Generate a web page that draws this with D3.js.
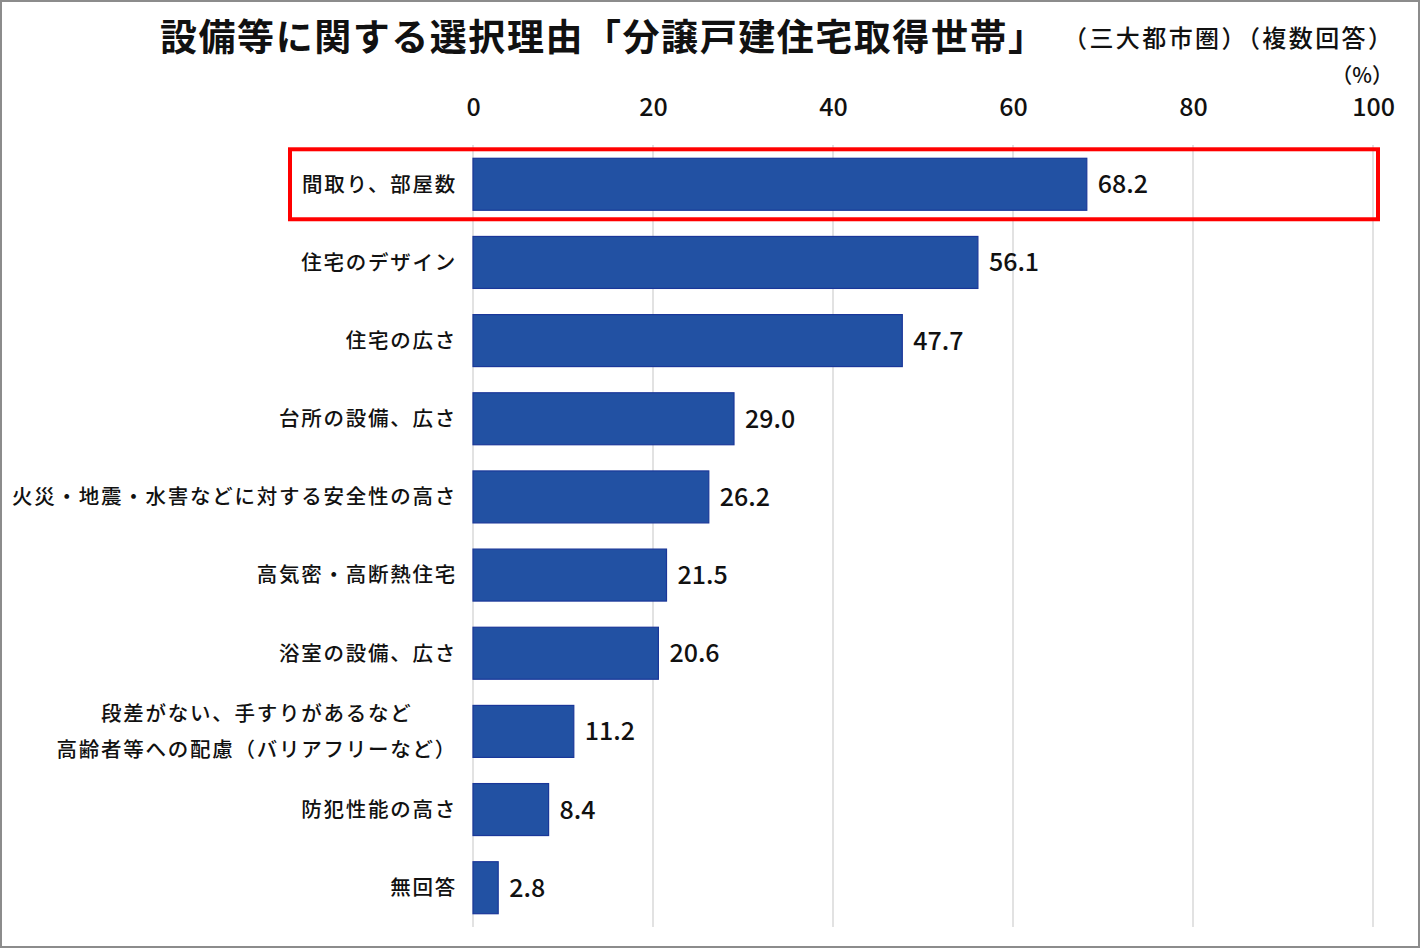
<!DOCTYPE html>
<html>
<head>
<meta charset="utf-8">
<script src="https://cdn.jsdelivr.net/npm/d3@7"></script>
<style>
  body { margin: 0; background: #fff; }
  svg { display: block; font-family: "Noto Sans CJK JP", "Noto Sans", sans-serif; }
</style>
</head>
<body>
<svg id="chart" width="1420" height="948"></svg>
<script>
// 選択理由（カテゴリ）と割合(%)
const categories = [
  "間取り、部屋数",
  "住宅のデザイン",
  "住宅の広さ",
  "台所の設備、広さ",
  "火災・地震・水害などに対する安全性の高さ",
  "高気密・高断熱住宅",
  "浴室の設備、広さ",
  "段差がない、手すりがあるなど\n高齢者等への配慮（バリアフリーなど）",
  "防犯性能の高さ",
  "無回答"
];
const values = [68.2, 56.1, 47.7, 29.0, 26.2, 21.5, 20.6, 11.2, 8.4, 2.8];
const ticks = [0, 20, 40, 60, 80, 100];
const highlighted = ["間取り、部屋数"];

const svg = d3.select("#chart");
const W = 1420, H = 948;

// 外枠
svg.append("rect")
  .attr("x", 1).attr("y", 1)
  .attr("width", W - 2).attr("height", H - 2)
  .attr("fill", "#fff")
  .attr("stroke", "#8c8c8c")
  .attr("stroke-width", 2);

const x = d3.scaleLinear().domain([0, 100]).range([473, 1373]);
const y = d3.scaleBand().domain(categories).range([145, 927]).paddingInner(0.335).paddingOuter(0.17);

// グリッド線
svg.append("g")
  .selectAll("line")
  .data(ticks)
  .join("line")
  .attr("x1", d => x(d)).attr("x2", d => x(d))
  .attr("y1", 145).attr("y2", 927)
  .attr("stroke", "#d9d9d9")
  .attr("stroke-width", 1.5);

// 上の軸
const axis = svg.append("g")
  .attr("transform", "translate(0,116)")
  .call(d3.axisTop(x).tickValues(ticks).tickSize(0).tickPadding(0));
axis.select(".domain").remove();
axis.selectAll("text")
  .attr("font-size", 25)
  .attr("font-weight", 500)
  .attr("fill", "#111")
  .attr("font-family", "\"Noto Sans CJK JP\", sans-serif");

// バー
svg.append("g")
  .selectAll("rect")
  .data(values)
  .join("rect")
  .attr("x", x(0))
  .attr("y", (d, i) => y(categories[i]))
  .attr("width", d => x(d) - x(0))
  .attr("height", y.bandwidth())
  .attr("fill", "#2251a3")
  .attr("stroke", "#1a3799")
  .attr("stroke-width", 1.2);

// 値ラベル
svg.append("g")
  .selectAll("text")
  .data(values)
  .join("text")
  .attr("x", d => x(d) + 11)
  .attr("y", (d, i) => y(categories[i]) + y.bandwidth() / 2)
  .attr("dy", "0.36em")
  .attr("font-size", 25)
  .attr("font-weight", 500)
  .attr("fill", "#111")
  .text(d => d.toFixed(1));

// カテゴリラベル
const labels = svg.append("g")
  .selectAll("text")
  .data(categories)
  .join("text")
  .attr("font-size", 20.5)
  .attr("font-weight", 500)
  .attr("letter-spacing", 1.75)
  .attr("fill", "#111");

labels.each(function (d) {
  const t = d3.select(this);
  const lines = d.split("\n");
  const cy = y(d) + y.bandwidth() / 2;
  if (lines.length === 1) {
    t.attr("x", 457).attr("y", cy).attr("dy", "0.36em")
      .attr("text-anchor", "end").text(d);
  } else {
    // 複数行は中央揃え
    lines.forEach((ln, k) => {
      t.append("tspan")
        .attr("y", cy + (k - (lines.length - 1) / 2) * 36)
        .attr("dy", "0.36em")
        .text(ln);
    });
    const widths = [];
    t.selectAll("tspan").each(function () { widths.push(this.getComputedTextLength()); });
    const maxW = d3.max(widths);
    const cx = 457 - maxW / 2;
    t.attr("text-anchor", "middle");
    t.selectAll("tspan").attr("x", cx);
  }
});

// 強調枠
highlighted.forEach(h => {
  svg.append("rect")
    .attr("x", 290)
    .attr("y", y(h) - 9)
    .attr("width", 1378 - 290)
    .attr("height", y.bandwidth() + 18)
    .attr("fill", "none")
    .attr("stroke", "#ff0000")
    .attr("stroke-width", 4);
});

// タイトル
svg.append("text")
  .attr("x", 160).attr("y", 51)
  .attr("font-size", 37)
  .attr("font-weight", 700)
  .attr("textLength", 885)
  .attr("lengthAdjust", "spacing")
  .attr("fill", "#111")
  .text("設備等に関する選択理由「分譲戸建住宅取得世帯」");

svg.append("text")
  .attr("x", 1063).attr("y", 47)
  .attr("font-size", 24)
  .attr("font-weight", 500)
  .attr("textLength", 329)
  .attr("lengthAdjust", "spacing")
  .attr("fill", "#111")
  .text("（三大都市圏）（複数回答）");

svg.append("text")
  .attr("x", 1393).attr("y", 83)
  .attr("text-anchor", "end")
  .attr("font-size", 21)
  .attr("font-weight", 500)
  .attr("fill", "#111")
  .text("（%）");
</script>
</body>
</html>
